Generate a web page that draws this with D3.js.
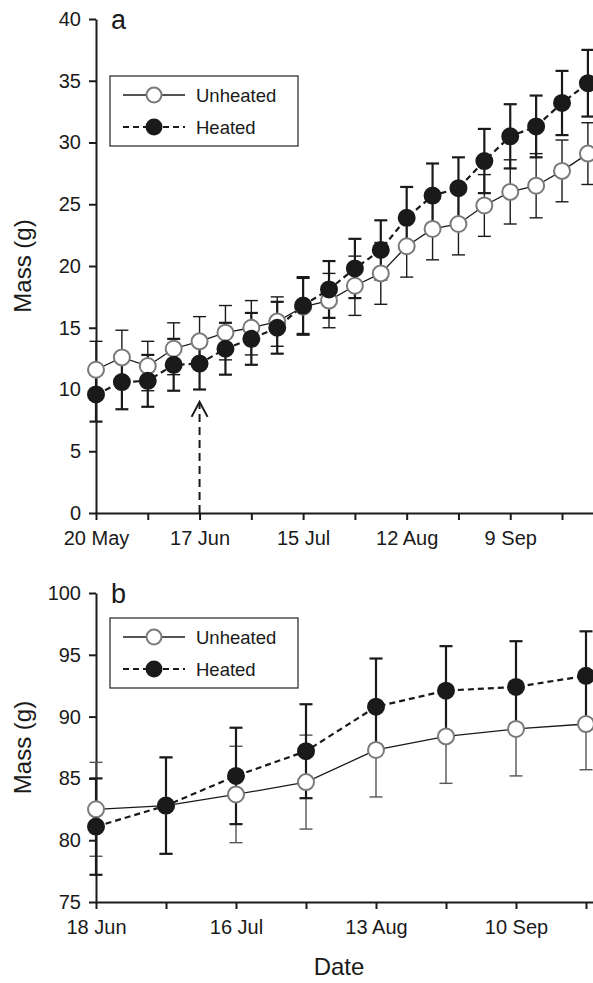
<!DOCTYPE html>
<html>
<head>
<meta charset="utf-8">
<script src="https://cdn.jsdelivr.net/npm/d3@7"></script>
<style>
    body { margin: 0; background: #fff; }
    svg { display: block; font-family: 'Liberation Sans', Arial, Helvetica, sans-serif; }
    .axis path, .axis line { stroke: #1a1a1a; stroke-width: 2; }
    .axis text { font-size: 20px; fill: #1a1a1a; }
</style>
</head>
<body>
<svg id="chart" width="593" height="983"></svg>
<script>
// panel a: weekly sampling from 20 May
const datesA = ['2010-05-20', '2010-05-27', '2010-06-03', '2010-06-10', '2010-06-17', '2010-06-24',
    '2010-07-01', '2010-07-08', '2010-07-15', '2010-07-22', '2010-07-29', '2010-08-05',
    '2010-08-12', '2010-08-19', '2010-08-26', '2010-09-02', '2010-09-09', '2010-09-16',
    '2010-09-23', '2010-09-30'];
const unheatedA = [11.6, 12.6, 11.9, 13.3, 13.9, 14.6, 15.0, 15.5, 16.7, 17.2, 18.4, 19.4, 21.6, 23.0, 23.4, 24.9, 26.0, 26.5, 27.7, 29.1];
const unheatedErrA = [2.3, 2.2, 2.0, 2.1, 2.0, 2.2, 2.2, 2.0, 2.3, 2.2, 2.4, 2.5, 2.5, 2.5, 2.5, 2.5, 2.6, 2.6, 2.5, 2.5];
const heatedA = [9.6, 10.6, 10.7, 12.0, 12.1, 13.3, 14.1, 15.0, 16.8, 18.1, 19.8, 21.3, 23.9, 25.7, 26.3, 28.5, 30.5, 31.3, 33.2, 34.8];
const heatedErrA = [2.2, 2.2, 2.1, 2.1, 2.1, 2.1, 2.1, 2.1, 2.3, 2.3, 2.4, 2.4, 2.5, 2.6, 2.5, 2.6, 2.6, 2.5, 2.6, 2.7];
const ticksA = ['2010-05-20', '2010-06-03', '2010-06-17', '2010-07-01', '2010-07-15', '2010-07-29',
    '2010-08-12', '2010-08-26', '2010-09-09', '2010-09-23'];
const tickLabelsA = ['20 May', '', '17 Jun', '', '15 Jul', '', '12 Aug', '', '9 Sep', ''];
const yTicksA = [0, 5, 10, 15, 20, 25, 30, 35, 40];
const heatingStart = '2010-06-17';
const arrowTip = 9;

// panel b: fortnightly sampling from 18 Jun
const datesB = ['2010-06-18', '2010-07-02', '2010-07-16', '2010-07-30', '2010-08-13', '2010-08-27', '2010-09-10', '2010-09-24'];
const unheatedB = [82.5, 82.8, 83.7, 84.7, 87.3, 88.4, 89.0, 89.4];
const unheatedErrB = [3.8, 3.9, 3.9, 3.8, 3.8, 3.8, 3.8, 3.7];
const heatedB = [81.1, 82.8, 85.2, 87.2, 90.8, 92.1, 92.4, 93.3];
const heatedErrB = [3.9, 3.9, 3.9, 3.8, 3.9, 3.6, 3.7, 3.6];
const ticksB = datesB;
const tickLabelsB = ['18 Jun', '', '16 Jul', '', '13 Aug', '', '10 Sep', ''];
const yTicksB = [75, 80, 85, 90, 95, 100];

const parseDate = d3.timeParse('%Y-%m-%d');
const svg = d3.select('#chart');
const ink = '#1a1a1a';

const makePanel = opts => {
    const g = svg.append('g');

    const xScale = d3.scaleTime()
        .domain(opts.xDomain.map(parseDate))
        .range([96, opts.xEnd]);

    const yScale = d3.scaleLinear()
        .domain(opts.yDomain)
        .range([opts.bottom, opts.top]);

    const xAxis = d3.axisBottom(xScale)
        .tickValues(opts.ticks.map(parseDate))
        .tickFormat((d, i) => opts.tickLabels[i])
        .tickSize(7)
        .tickSizeOuter(0)
        .tickPadding(11);

    const yAxis = d3.axisLeft(yScale)
        .tickValues(opts.yTicks)
        .tickSize(7)
        .tickSizeOuter(0)
        .tickPadding(8);

    g.append('g')
        .attr('class', 'axis')
        .attr('transform', `translate(0, ${opts.bottom})`)
        .call(xAxis);

    g.append('g')
        .attr('class', 'axis')
        .attr('transform', 'translate(96, 0)')
        .call(yAxis);

    g.append('text')
        .attr('transform', `translate(31, ${(opts.top + opts.bottom) / 2}) rotate(-90)`)
        .attr('text-anchor', 'middle')
        .attr('font-size', 24)
        .attr('fill', ink)
        .text('Mass (g)');

    g.append('text')
        .attr('x', 111)
        .attr('y', opts.top + 10)
        .attr('font-size', 27)
        .attr('fill', ink)
        .text(opts.label);

    const series = [
        {values: opts.unheated, err: opts.unheatedErr, name: 'Unheated'},
        {values: opts.heated, err: opts.heatedErr, name: 'Heated'}
    ].map(s => ({
        ...s,
        points: opts.dates.map((d, i) => ({date: parseDate(d), v: s.values[i], e: s.err[i]}))
    }));

    const style = {
        Unheated: {line: ink, lineWidth: 1.3, dash: null, errColor: opts.unheatedErrColor, errWidth: 1.4, fill: '#fff', stroke: '#7a7a7a'},
        Heated: {line: ink, lineWidth: 2.2, dash: '6,4', errColor: ink, errWidth: 2.2, fill: ink, stroke: ink}
    };

    // error bars
    series.forEach(s => {
        const st = style[s.name];
        const eg = g.append('g')
            .attr('stroke', st.errColor)
            .attr('stroke-width', st.errWidth);
        eg.selectAll('line.stem')
            .data(s.points)
            .enter()
            .append('line')
            .attr('x1', d => xScale(d.date))
            .attr('x2', d => xScale(d.date))
            .attr('y1', d => yScale(d.v - d.e))
            .attr('y2', d => yScale(d.v + d.e));
        [-1, 1].forEach(sign => {
            eg.selectAll(null)
                .data(s.points)
                .enter()
                .append('line')
                .attr('x1', d => xScale(d.date) - 6.5)
                .attr('x2', d => xScale(d.date) + 6.5)
                .attr('y1', d => yScale(d.v + sign * d.e))
                .attr('y2', d => yScale(d.v + sign * d.e));
        });
    });

    const line = d3.line()
        .x(d => xScale(d.date))
        .y(d => yScale(d.v));

    series.forEach(s => {
        const st = style[s.name];
        g.append('path')
            .datum(s.points)
            .attr('d', line)
            .attr('fill', 'none')
            .attr('stroke', st.line)
            .attr('stroke-width', st.lineWidth)
            .attr('stroke-dasharray', st.dash);
    });

    series.forEach(s => {
        const st = style[s.name];
        g.selectAll(null)
            .data(s.points)
            .enter()
            .append('circle')
            .attr('cx', d => xScale(d.date))
            .attr('cy', d => yScale(d.v))
            .attr('r', 8)
            .attr('fill', st.fill)
            .attr('stroke', st.stroke)
            .attr('stroke-width', 2);
    });

    // legend
    const lg = g.append('g')
        .attr('transform', `translate(110, ${opts.legendTop})`);
    lg.append('rect')
        .attr('width', 188)
        .attr('height', 70)
        .attr('fill', '#fff')
        .attr('stroke', '#333')
        .attr('stroke-width', 1.3);
    series.forEach((s, i) => {
        const st = style[s.name];
        const cy = 19 + i * 32;
        lg.append('line')
            .attr('x1', 13)
            .attr('x2', 75)
            .attr('y1', cy)
            .attr('y2', cy)
            .attr('stroke', st.line)
            .attr('stroke-width', st.lineWidth)
            .attr('stroke-dasharray', st.dash);
        lg.append('circle')
            .attr('cx', 44)
            .attr('cy', cy)
            .attr('r', 7.5)
            .attr('fill', st.fill)
            .attr('stroke', st.stroke)
            .attr('stroke-width', 2);
        lg.append('text')
            .attr('x', 86)
            .attr('y', cy + 6.5)
            .attr('font-size', 18.5)
            .attr('fill', ink)
            .text(s.name);
    });

    return {g, xScale, yScale};
};

const a = makePanel({
    label: 'a',
    top: 19, bottom: 513,
    xDomain: ['2010-05-20', '2010-10-03'], xEnd: 599,
    yDomain: [0, 40], yTicks: yTicksA,
    ticks: ticksA, tickLabels: tickLabelsA,
    dates: datesA,
    unheated: unheatedA, unheatedErr: unheatedErrA,
    heated: heatedA, heatedErr: heatedErrA,
    unheatedErrColor: ink,
    legendTop: 76
});

// arrow marking start of heating
const ax = a.xScale(parseDate(heatingStart));
a.g.append('line')
    .attr('x1', ax).attr('x2', ax)
    .attr('y1', a.yScale(0)).attr('y2', a.yScale(arrowTip) + 2)
    .attr('stroke', ink)
    .attr('stroke-width', 2)
    .attr('stroke-dasharray', '8,5');
a.g.append('path')
    .attr('d', `M${ax - 8},${a.yScale(arrowTip) + 15} L${ax},${a.yScale(arrowTip)} L${ax + 8},${a.yScale(arrowTip) + 15}`)
    .attr('fill', 'none')
    .attr('stroke', ink)
    .attr('stroke-width', 2);

makePanel({
    label: 'b',
    top: 593, bottom: 902,
    xDomain: ['2010-06-18', '2010-09-26'], xEnd: 596,
    yDomain: [75, 100], yTicks: yTicksB,
    ticks: ticksB, tickLabels: tickLabelsB,
    dates: datesB,
    unheated: unheatedB, unheatedErr: unheatedErrB,
    heated: heatedB, heatedErr: heatedErrB,
    unheatedErrColor: '#555',
    legendTop: 618
});

svg.append('text')
    .attr('x', 339)
    .attr('y', 975)
    .attr('text-anchor', 'middle')
    .attr('font-size', 24)
    .attr('fill', ink)
    .text('Date');
</script>
</body>
</html>
